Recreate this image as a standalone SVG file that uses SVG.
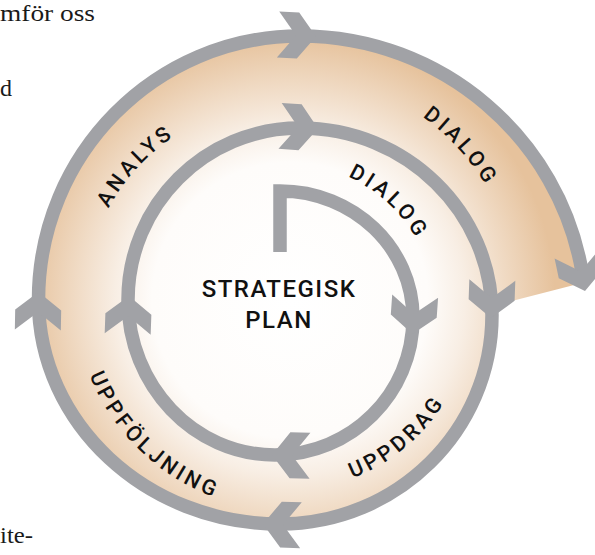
<svg xmlns="http://www.w3.org/2000/svg" width="595" height="555" viewBox="0 0 595 555">
<style>
.ring{fill:none;stroke:#a1a2a6;stroke-width:13.5;stroke-linejoin:miter;stroke-miterlimit:10}
.chev{fill:#a1a2a6}
.lbl{font-family:Roboto,"DejaVu Sans",sans-serif;font-weight:500;font-size:21.5px;letter-spacing:3.5px;fill:#111}
.ctr{font-family:Roboto,"DejaVu Sans",sans-serif;font-weight:500;font-size:24px;letter-spacing:1.5px;fill:#111;text-anchor:middle}
.page{font-family:"Liberation Serif","Times New Roman",serif;font-size:24px;fill:#1a1a1a}
</style>
<defs>
<radialGradient id="g" gradientUnits="userSpaceOnUse" cx="290" cy="300" r="265">
<stop offset="0" stop-color="#ffffff"/>
<stop offset="0.52" stop-color="#fefcfa"/>
<stop offset="0.66" stop-color="#f8eee4"/>
<stop offset="1" stop-color="#e6c29c"/>
</radialGradient>
<polygon id="chev" points="0,0 -18,-23 -38,-23 -20,0 -38,23 -18,23"/>
<path id="pAnalys" d="M88.8,261.1 A203,203 0 0 1 226,111.4"/>
<path id="pDialogO" d="M357.2,83.9 A232,232 0 0 1 513.6,255.2"/>
<path id="pDialogI" d="M317.9,166.6 A152,152 0 0 1 430,269.3"/>
<path id="pUppdrag" d="M318.2,487.4 A185,185 0 0 0 460.5,369.2"/>
<path id="pUppf" d="M77.9,335.8 A216,216 0 0 0 255.8,508.3"/>
</defs>
<g id="page-text">
<text class="page" x="0" y="21" textLength="95" lengthAdjust="spacingAndGlyphs">mför oss</text>
<text class="page" x="0" y="96">d</text>
<text class="page" x="0" y="543" textLength="33" lengthAdjust="spacingAndGlyphs">ite-</text>
</g>
<g id="band">
<path fill="url(#g)" d="M492,315 C492,430.4 397,524 280,524 C146.7,524 38.5,423.6 38.5,300 C38.5,154.3 155.7,36 300,36 C442.1,36 560.3,138.9 582.4,273.9 L578,284 L492,306 Z"/>
</g>
<g id="connectors">
<path class="ring" d="M280,252 L280,191 C353.4,191 413,247.9 413,318 C413,393.6 351.2,455 275,455 C193.9,455 128,385.6 128,300 C128,205 205,128 300,128 C406,128 492,211.8 492,315 C492,430.4 397,524 280,524 C146.7,524 38.5,423.6 38.5,300 C38.5,154.3 155.7,36 300,36 C442.1,36 560.3,138.9 582.4,273.9"/>
<use href="#chev" class="chev" transform="translate(316,36.5) rotate(3)"/>
<use href="#chev" class="chev" transform="translate(318,128.5) rotate(4)"/>
<use href="#chev" class="chev" transform="translate(412.5,334) rotate(94)"/>
<use href="#chev" class="chev" transform="translate(491,318) rotate(92)"/>
<use href="#chev" class="chev" transform="translate(272,455) rotate(181)"/>
<use href="#chev" class="chev" transform="translate(129,296) rotate(-88)"/>
<use href="#chev" class="chev" transform="translate(38.5,292) rotate(-89)"/>
<use href="#chev" class="chev" transform="translate(263,524) rotate(182)"/>
<use href="#chev" class="chev" transform="translate(585,291) rotate(78)"/>
</g>
<g id="center">
<text class="ctr" x="279" y="297">STRATEGISK</text>
<text class="ctr" x="279" y="328">PLAN</text>
</g>
<g id="analys"><text class="lbl"><textPath href="#pAnalys" startOffset="50%" text-anchor="middle">ANALYS</textPath></text></g>
<g id="dialog-outer"><text class="lbl"><textPath href="#pDialogO" startOffset="50%" text-anchor="middle">DIALOG</textPath></text></g>
<g id="dialog-inner"><text class="lbl"><textPath href="#pDialogI" startOffset="50%" text-anchor="middle">DIALOG</textPath></text></g>
<g id="uppdrag"><text class="lbl"><textPath href="#pUppdrag" startOffset="50%" text-anchor="middle">UPPDRAG</textPath></text></g>
<g id="uppfoljning"><text class="lbl"><textPath href="#pUppf" startOffset="50%" text-anchor="middle">UPPFÖLJNING</textPath></text></g>
</svg>
